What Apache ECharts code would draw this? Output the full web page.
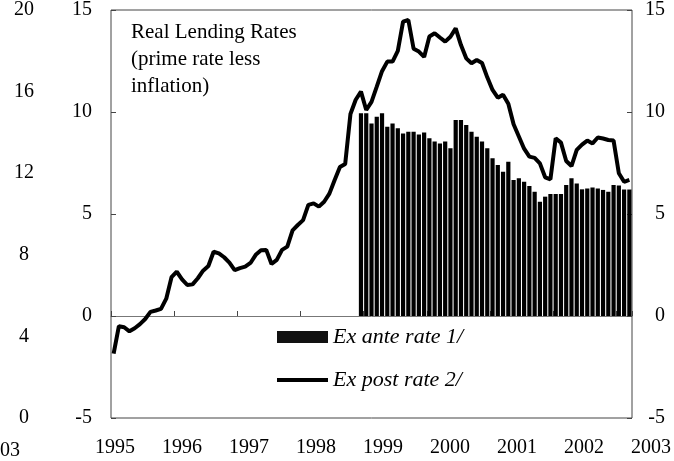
<!DOCTYPE html>
<html>
<head>
<meta charset="utf-8">
<script src="https://cdn.jsdelivr.net/npm/echarts@6/dist/echarts.min.js"></script>
<style>
html,body{margin:0;padding:0;background:#fff;}
#chart{width:674px;height:461px;}
</style>
</head>
<body>
<div id="chart"></div>
<script>
// ---- data ----
const startYear = 1995;
const monthCount = 99; // Jan 1995 .. Mar 2003
const yearLabels = [1995, 1996, 1997, 1998, 1999, 2000, 2001, 2002, 2003];
const leftTicks = [-5, 0, 5, 10, 15];
const outerTicks = [0, 4, 8, 12, 16, 20];

// Ex post rate 2/ (monthly, from Jan 1995)
const exPost = [
  -1.85, -0.5, -0.55, -0.75, -0.6, -0.4, -0.15, 0.2, 0.27, 0.35, 0.85, 1.9,
  2.17, 1.8, 1.52, 1.55, 1.85, 2.22, 2.45, 3.15, 3.07, 2.88, 2.62, 2.25,
  2.35, 2.42, 2.6, 3.0, 3.22, 3.24, 2.55, 2.75, 3.24, 3.4, 4.2, 4.46,
  4.7, 5.45, 5.52, 5.36, 5.6, 6.0, 6.67, 7.3, 7.45, 9.9, 10.6, 11.0,
  10.1, 10.5, 11.24, 12.0, 12.47, 12.47, 13.0, 14.43, 14.51, 13.1, 12.96, 12.7,
  13.7, 13.86, 13.65, 13.45, 13.69, 14.1, 13.28, 12.63, 12.39, 12.55, 12.4, 11.7,
  11.08, 10.7, 10.85, 10.4, 9.4, 8.8, 8.2, 7.81, 7.75, 7.48, 6.8, 6.7,
  8.71, 8.5, 7.6, 7.35, 8.14, 8.4, 8.6, 8.46, 8.75, 8.7, 8.63, 8.6,
  7.0, 6.58, 6.67
];

// Ex ante rate 1/ (monthly, from Dec 1998)
const exAnteStartIndex = 47;
const exAnteValues = [
  9.94, 9.94, 9.44, 9.77, 9.94, 9.28, 9.44, 9.2, 8.95, 9.03, 9.03, 8.9,
  9.0, 8.71, 8.55, 8.45, 8.55, 8.22, 9.61, 9.61, 9.36, 9.03, 8.79, 8.55,
  8.22, 7.73, 7.4, 7.07, 7.56, 6.67, 6.75, 6.58, 6.37, 6.09, 5.6, 5.85,
  5.98, 5.98, 5.98, 6.42, 6.75, 6.5, 6.21, 6.25, 6.3, 6.25, 6.18, 6.09,
  6.42, 6.4, 6.2, 6.2
];

// ---- build ----
const categories = [];
for (let i = 0; i < monthCount; i++) {
  const y = startYear + Math.floor(i / 12);
  const m = (i % 12) + 1;
  categories.push(y + '-' + (m < 10 ? '0' + m : m));
}
const exAnte = [];
for (let i = 0; i < monthCount; i++) {
  const k = i - exAnteStartIndex;
  exAnte.push(k >= 0 && k < exAnteValues.length ? exAnteValues[k] : null);
}

const serif = '"Liberation Serif", "DejaVu Serif", serif';
const chart = echarts.init(document.getElementById('chart'), null, { renderer: 'canvas' });

chart.setOption({
  animation: false,
  backgroundColor: '#ffffff',
  grid: [
    { left: 111, right: 42, top: 10, bottom: 43, show: true, borderColor: '#444', borderWidth: 1, backgroundColor: 'transparent' },
    { left: 111, right: 0, top: 10, bottom: 43, show: false }
  ],
  xAxis: [
    {
      type: 'category', gridIndex: 0, data: categories, boundaryGap: true,
      axisLine: { show: true, onZero: true, lineStyle: { color: '#777', width: 1 } },
      axisTick: { show: true, inside: true, length: 5, interval: function (idx) { return idx % 12 === 0; }, lineStyle: { color: '#444' } },
      axisLabel: { show: false },
      splitLine: { show: false }
    },
    {
      type: 'value', gridIndex: 1, position: 'bottom',
      min: 1994.94, max: 2003.219,
      axisLine: { show: false }, axisTick: { show: false }, splitLine: { show: false },
      axisLabel: {
        show: true, customValues: yearLabels, margin: 20,
        fontFamily: serif, fontSize: 20, color: '#000',
        formatter: function (v) { return String(Math.round(v)); }
      }
    }
  ],
  yAxis: [
    {
      type: 'value', gridIndex: 0, position: 'left', min: leftTicks[0], max: leftTicks[leftTicks.length - 1], interval: 5,
      axisLine: { show: false },
      axisTick: { show: true, inside: true, length: 5, lineStyle: { color: '#444' } },
      splitLine: { show: false },
      axisLabel: { margin: 19, fontFamily: serif, fontSize: 20, color: '#000' }
    },
    {
      type: 'value', gridIndex: 0, position: 'right', min: leftTicks[0], max: leftTicks[leftTicks.length - 1], interval: 5,
      axisLine: { show: false },
      axisTick: { show: true, inside: true, length: 5, lineStyle: { color: '#444' } },
      splitLine: { show: false },
      axisLabel: { margin: 33, align: 'right', fontFamily: serif, fontSize: 20, color: '#000' }
    },
    {
      type: 'value', gridIndex: 0, position: 'left', offset: 79, min: outerTicks[0], max: outerTicks[outerTicks.length - 1], interval: 4,
      axisLine: { show: false }, axisTick: { show: false }, splitLine: { show: false },
      axisLabel: { margin: 8, align: 'center', fontFamily: serif, fontSize: 20, color: '#000' }
    },
    { type: 'value', gridIndex: 1, show: false, min: 0, max: 1 }
  ],
  legend: {
    orient: 'vertical', left: 277, top: 326, padding: 0, itemWidth: 51, itemHeight: 12, itemGap: 21,
    textStyle: { fontFamily: serif, fontSize: 22, fontStyle: 'italic', color: '#000' },
    data: [
      { name: 'Ex ante rate 1/', icon: 'rect', itemStyle: { color: '#111' } },
      { name: 'Ex post rate 2/', icon: 'path://M0,0L52,0L52,4L0,4Z', itemStyle: { color: '#000' } }
    ]
  },
  graphic: [
    {
      type: 'text', left: 131, top: 19, z: 10,
      style: { text: 'Real Lending Rates\n(prime rate less\ninflation)', font: '21px ' + serif, fill: '#000', lineHeight: 27 }
    },
    {
      type: 'text', left: 0, top: 441, z: 10,
      style: { text: '03', font: '20px ' + serif, fill: '#000' }
    }
  ],
  series: [
    {
      name: 'Ex ante rate 1/', type: 'bar', xAxisIndex: 0, yAxisIndex: 0, data: exAnte,
      barCategoryGap: '20%', itemStyle: { color: '#000' }, z: 2
    },
    {
      name: 'Ex post rate 2/', type: 'line', xAxisIndex: 0, yAxisIndex: 0, data: exPost,
      symbol: 'none', lineStyle: { color: '#000', width: 4 }, itemStyle: { color: '#000' }, z: 3
    }
  ]
});
</script>
</body>
</html>
